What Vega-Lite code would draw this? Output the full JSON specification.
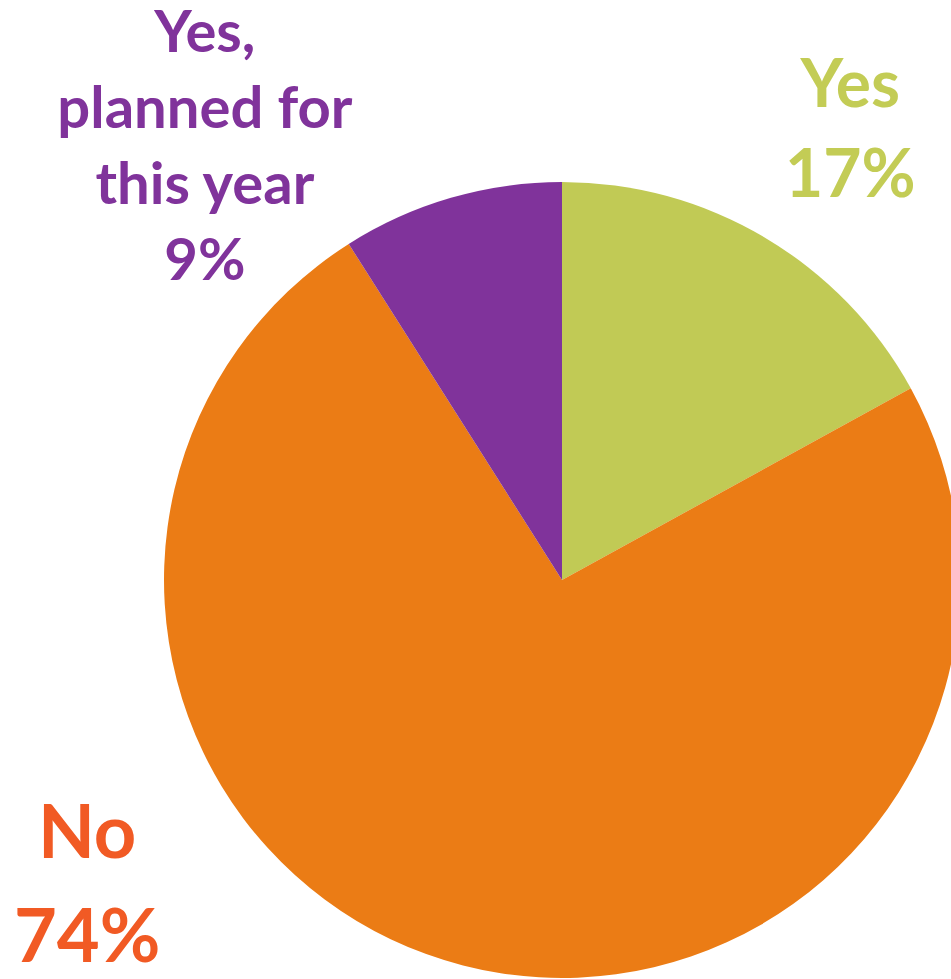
{
  "$schema": "https://vega.github.io/schema/vega-lite/v6.json",
  "width": 1124,
  "height": 1160,
  "padding": 0,
  "autosize": {"type": "none"},
  "background": "white",
  "config": {"view": {"stroke": null}},
  "data": {
    "values": [
      {"category": "Yes", "rank": 1, "value": 17, "label": ["Yes", "17%"]},
      {"category": "No", "rank": 2, "value": 74, "label": ["No", "74%"]},
      {"category": "Yes, planned for this year", "rank": 3, "value": 9, "label": ["Yes,", "planned for", "this year", "9%"]}
    ]
  },
  "encoding": {
    "theta": {"field": "value", "type": "quantitative", "stack": true},
    "order": {"field": "rank", "type": "quantitative"},
    "detail": {"field": "category"}
  },
  "layer": [
    {
      "mark": {"type": "arc", "outerRadius": 398, "stroke": null},
      "encoding": {
        "color": {
          "field": "category",
          "type": "nominal",
          "scale": {
            "domain": ["Yes", "No", "Yes, planned for this year"],
            "range": ["#C1CA55", "#EB7C15", "#80339B"]
          },
          "legend": null
        }
      }
    },
    {
      "mark": {"type": "text", "radius": 525, "dx": 21, "dy": -21, "font": "Lato", "fontWeight": "bold", "fontSize": 66, "lineHeight": 90, "color": "#C3CC55", "align": "center", "baseline": "alphabetic"},
      "encoding": {
        "text": {"condition": {"test": "datum.category === 'Yes'", "field": "label"}, "value": ""}
      }
    },
    {
      "mark": {"type": "text", "radius": 452, "dx": -231, "dy": -94, "font": "Lato", "fontWeight": "bold", "fontSize": 58, "lineHeight": 76, "color": "#80339B", "align": "center", "baseline": "alphabetic"},
      "encoding": {
        "text": {"condition": {"test": "datum.category === 'Yes, planned for this year'", "field": "label"}, "value": ""}
      }
    },
    {
      "mark": {"type": "text", "radius": 313, "dx": -397, "dy": -25, "font": "Lato", "fontWeight": "bold", "fontSize": 74, "lineHeight": 104, "color": "#F15A24", "align": "center", "baseline": "alphabetic"},
      "encoding": {
        "text": {"condition": {"test": "datum.category === 'No'", "field": "label"}, "value": ""}
      }
    }
  ]
}
